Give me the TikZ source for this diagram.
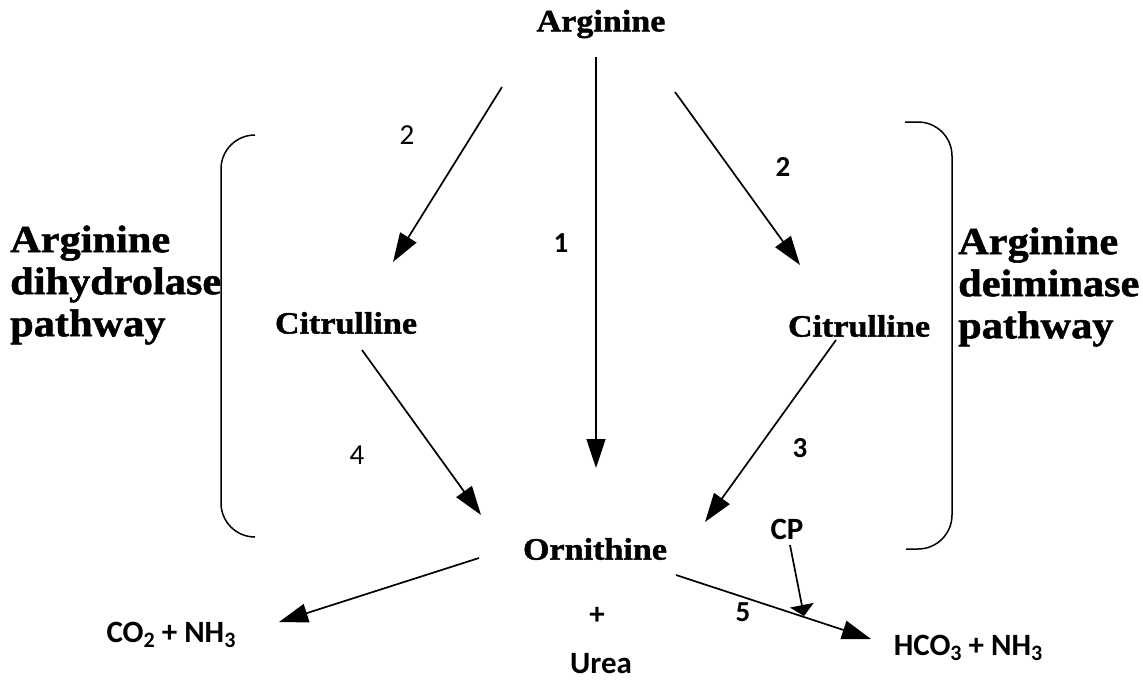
\documentclass[tikz,border=0pt]{standalone}
\usepackage{fontspec}
\setmainfont{Liberation Serif}[FakeStretch=1.1, BoldFeatures={FakeBold=1.3}]
\newfontfamily\calib{Carlito}
\usetikzlibrary{arrows.meta}
\newcommand\lowsub[1]{\raisebox{-0.35ex}{\fontsize{22}{22}\selectfont #1}}
\tikzset{
  serifbig/.style={font=\fontsize{38.5}{42}\selectfont\bfseries, align=left, inner sep=0},
  serifmid/.style={font=\fontsize{31}{32}\selectfont\bfseries, inner sep=0},
  sanslab/.style={font=\calib\fontsize{31}{32}\selectfont\bfseries, inner sep=0},
  numb/.style={font=\calib\fontsize{29}{29}\selectfont\bfseries, inner sep=0},
  numr/.style={font=\calib\fontsize{29}{29}\selectfont, inner sep=0},
  arr/.style={line width=1.7pt, -{Triangle[length=29pt,width=19pt]}},
  arrsmall/.style={line width=1.7pt, -{Triangle[length=11pt,width=24pt]}},
  brack/.style={line width=1.5pt, rounded corners=34pt}
}
\begin{document}
\begin{tikzpicture}[x=1pt,y=-1pt]
\useasboundingbox (0,0) rectangle (1143,681);
% main nodes
\node[serifmid] (arg) at (601,24) {Arginine};
\node[serifmid] (citL) at (346,323) {Citrulline};
\node[serifmid] (citR) at (859,326) {Citrulline};
\node[serifmid] (orn) at (595,549) {Ornithine};
\node[sanslab] (co2) at (171,635) {CO\lowsub{2} + NH\lowsub{3}};
\node[sanslab] (hco3) at (968,648) {HCO\lowsub{3} + NH\lowsub{3}};
\node[sanslab] (cp) at (787,529) {CP};
\node[sanslab] (plus) at (597,616) {+};
\node[sanslab] (urea) at (601,664) {Urea};
% side labels
\node[serifbig, anchor=west] (lpath) at (10,285) {Arginine\\dihydrolase\\pathway};
\node[serifbig, anchor=west] (rpath) at (958,287) {Arginine\\deiminase\\pathway};
% numbers
\node[numr] (n2l) at (407,135) {2};
\node[numb] (n1) at (561,243) {1};
\node[numb] (n2r) at (783,167) {2};
\node[numr] (n4) at (357,455) {4};
\node[numb] (n3) at (800,448) {3};
\node[numb] (n5) at (743,612) {5};
% connector end points
\coordinate (a1s) at (596,57);   \coordinate (a1e) at (596,468);
\coordinate (a2ls) at (502,87);  \coordinate (a2le) at (393,262);
\coordinate (a2rs) at (675,92);  \coordinate (a2re) at (800,265);
\coordinate (a4s) at (362,350);  \coordinate (a4e) at (481,515);
\coordinate (a3s) at (836,340);  \coordinate (a3e) at (705,522);
\coordinate (aCs) at (479,558);  \coordinate (aCe) at (279,622);
\coordinate (aHs) at (676,575);  \coordinate (aHe) at (871,639);
\coordinate (aPs) at (790,545);  \coordinate (aPe) at (804,616);
% connectors
\draw[arr] (a1s) -- (a1e);
\draw[arr] (a2ls) -- (a2le);
\draw[arr] (a2rs) -- (a2re);
\draw[arr] (a4s) -- (a4e);
\draw[arr] (a3s) -- (a3e);
\draw[arr] (aCs) -- (aCe);
\draw[arr] (aHs) -- (aHe);
\draw[arrsmall] (aPs) -- (aPe);
% brackets
\draw[brack] (255,135) -- (221,135) -- (221,537) -- (255,537);
\draw[brack] (905,122) -- (952,122) -- (952,549) -- (906,549);
\end{tikzpicture}
\end{document}
